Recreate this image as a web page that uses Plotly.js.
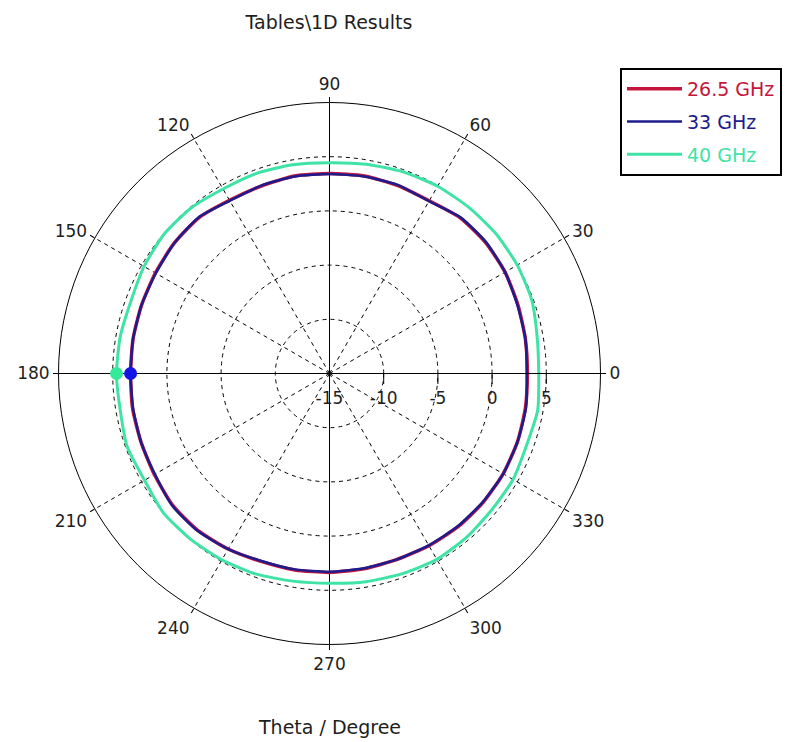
<!DOCTYPE html>
<html>
<head>
<meta charset="utf-8">
<script src="https://cdn.plot.ly/plotly-3.0.1.min.js"></script>
<style>html,body{margin:0;padding:0;background:#fff;}#chart{width:791px;height:742px;}</style>
</head>
<body>
<div id="chart"></div>
<script>
// ---- data ----
const thetaDeg = [0,10,20,30,40,50,60,70,80,90,100,110,120,130,140,150,160,170,180,190,200,210,220,230,240,250,260,270,280,290,300,310,320,330,340,350,360];
const r26_5GHz = [3.25,3.35,3.5,3.7,3.8,3.75,3.4,3.45,3.5,3.45,3.5,3.4,3.45,3.75,3.7,3.55,3.45,3.4,3.35,3.45,3.5,3.65,3.9,3.9,3.7,3.45,3.4,3.35,3.3,3.25,3.35,3.45,3.5,3.5,3.45,3.35,3.25];
const r33GHz   = [3.2,3.35,3.45,3.7,3.85,3.8,3.35,3.5,3.45,3.4,3.45,3.45,3.4,3.8,3.7,3.5,3.45,3.4,3.35,3.4,3.5,3.6,3.95,3.95,3.7,3.4,3.35,3.3,3.25,3.25,3.3,3.4,3.45,3.5,3.45,3.4,3.2];
const r40GHz   = [4.3,4.45,4.85,5.0,5.05,5.0,4.95,4.8,4.6,4.45,4.55,4.65,4.65,4.9,4.95,4.75,4.5,4.6,4.65,4.6,4.85,4.7,5.0,4.95,4.85,4.7,4.45,4.35,4.5,4.65,4.8,4.7,4.55,4.55,4.35,4.5,4.3];
const seriesNames = ["26.5 GHz","33 GHz","40 GHz"];
const seriesColors = ["#c4163c","#1c1c8e","#3fe3a5"];
const markerTheta = [180];
const markerR33 = [3.35];
const markerR40 = [4.65];
const angularTicks = [0,30,60,90,120,150,180,210,240,270,300,330];
const radialTicks = [-15,-10,-5,0,5];
const radialRange = [-15,10];
const titleText = "Tables\\1D Results";
const xTitleText = "Theta / Degree";

const font = "DejaVu Sans, sans-serif";
const txt = "#1e1e1e";
const rMax = radialRange[1];

const traces = [
  {type:"scatterpolar", theta:[0,180], r:[rMax,rMax], mode:"lines",
   line:{color:"#000",width:1}, showlegend:false, hoverinfo:"skip"},
  {type:"scatterpolar", theta:[90,270], r:[rMax,rMax], mode:"lines",
   line:{color:"#000",width:1}, showlegend:false, hoverinfo:"skip"},
  {type:"scatterpolar", theta:thetaDeg, r:r26_5GHz, mode:"lines",
   name:'<span style="color:'+seriesColors[0]+'">'+seriesNames[0]+'</span>',
   legendgroup:"a", line:{color:seriesColors[0],width:3.5,shape:"spline",smoothing:0.6}},
  {type:"scatterpolar", theta:thetaDeg, r:r33GHz, mode:"lines",
   name:'<span style="color:'+seriesColors[1]+'">'+seriesNames[1]+'</span>',
   legendgroup:"b", line:{color:seriesColors[1],width:2.5,shape:"spline",smoothing:0.6}},
  {type:"scatterpolar", theta:thetaDeg, r:r40GHz, mode:"lines",
   name:'<span style="color:'+seriesColors[2]+'">'+seriesNames[2]+'</span>',
   legendgroup:"c", line:{color:seriesColors[2],width:3,shape:"spline",smoothing:0.6}},
  {type:"scatterpolar", theta:markerTheta, r:markerR33, mode:"markers",
   marker:{color:"#1414e6",size:13}, showlegend:false, hoverinfo:"skip"},
  {type:"scatterpolar", theta:markerTheta, r:markerR40, mode:"markers",
   marker:{color:"#34ea98",size:13}, showlegend:false, hoverinfo:"skip"}
];

const layout = {
  width:791, height:742,
  margin:{l:0,r:0,t:0,b:0},
  paper_bgcolor:"#fff",
  font:{family:font, color:txt, size:17},
  title:{text:titleText, x:329/791, xanchor:"center", y:1-22/742, yanchor:"middle",
         font:{family:font,size:19,color:txt}},
  showlegend:true,
  legend:{x:620/791, xanchor:"left", y:1-68/742, yanchor:"top",
          bgcolor:"#fff", bordercolor:"#000", borderwidth:2,
          font:{family:font,size:19}, itemwidth:55, tracegroupgap:5, traceorder:"grouped"},
  polar:{
    domain:{x:[58.5/791, 600.5/791], y:[(742-644.5)/742, (742-102.5)/742]},
    bgcolor:"#fff",
    angularaxis:{
      direction:"counterclockwise", rotation:0,
      tickmode:"array", tickvals:angularTicks, ticktext:angularTicks.map(String),
      ticks:"outside", ticklen:5, tickcolor:"#000",
      showline:true, linecolor:"#000", linewidth:1,
      showgrid:true, gridcolor:"#000", gridwidth:1, griddash:"4px,4px",
      tickfont:{family:font,size:17,color:txt}
    },
    radialaxis:{
      range:radialRange, angle:0, side:"clockwise",
      tickmode:"array", tickvals:radialTicks, ticktext:radialTicks.map(String),
      ticks:"outside", ticklen:10, tickcolor:"#000",
      showline:true, linecolor:"#000", linewidth:1,
      showgrid:true, gridcolor:"#000", gridwidth:1, griddash:"4px,4px",
      tickfont:{family:font,size:17,color:txt}, tickangle:0
    }
  },
  annotations:[
    {text:xTitleText, xref:"paper", yref:"paper", x:329/791, y:(742-727)/742,
     xanchor:"center", yanchor:"middle", showarrow:false,
     font:{family:font,size:19,color:txt}}
  ]
};

Plotly.newPlot("chart", traces, layout, {displayModeBar:false, staticPlot:true});
</script>
</body>
</html>
